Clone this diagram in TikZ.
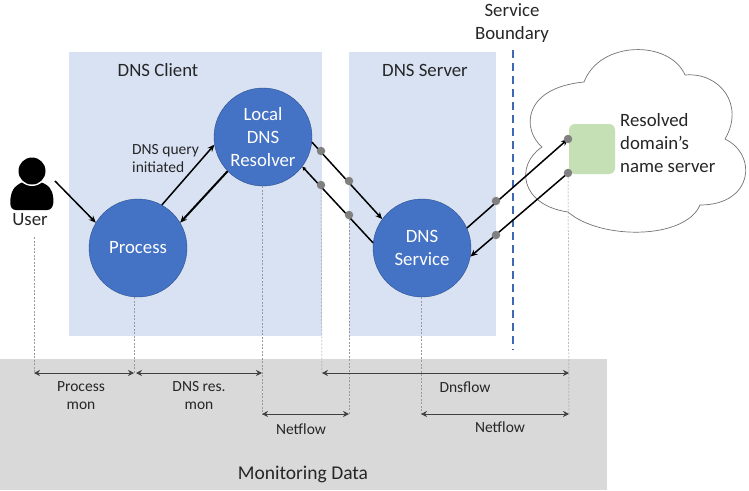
\documentclass[tikz,border=0pt]{standalone}
\usepackage{fontspec}
\setmainfont{Carlito}
\usetikzlibrary{arrows.meta}
\definecolor{panelblue}{HTML}{D9E2F3}
\definecolor{paneldata}{HTML}{D9D9D9}
\definecolor{circleblue}{HTML}{4472C4}
\definecolor{circleedge}{HTML}{2F528F}
\definecolor{servergreen}{HTML}{C5E0B4}
\definecolor{labeltext}{HTML}{262626}
\tikzset{
    big/.style={font=\fontsize{18.8}{23}\selectfont, text=labeltext, align=center, inner sep=0pt},
    small/.style={font=\fontsize{15.5}{18}\selectfont, text=labeltext, align=center, inner sep=0pt},
    comp/.style={circle, draw=circleedge, fill=circleblue, minimum size=98pt, inner sep=0pt, text=white, align=center, font=\fontsize{18.8}{23}\selectfont},
    hop/.style={circle, fill=black!50, minimum size=8.5pt, inner sep=0pt},
    flow/.style={-{Stealth[length=7pt,width=6pt]}, line width=1.5pt, black},
    span/.style={{Stealth[length=6pt,width=6pt]}-{Stealth[length=6pt,width=6pt]}, line width=.8pt, black!75},
    guide/.style={dashed, dash pattern=on 2pt off 1.5pt, line width=.5pt, black!40}
}
\begin{document}
\begin{tikzpicture}[x=1pt,y=-1pt]
    \useasboundingbox (0,0) rectangle (749,490);
    % panels
    \fill[panelblue] (69,52) rectangle (322,336);
    \fill[panelblue] (349,52) rectangle (496,336);
    \fill[paneldata] (0,359) rectangle (607,490);
    \node[big] (clienttitle) at (158,70) {DNS Client};
    \node[big] (servertitle) at (425,70) {DNS Server};
    \node[big] (datatitle) at (303,474) {\fontsize{19.5}{23}\selectfont Monitoring Data};
    % boundary
    \draw[circleedge!30!circleblue, line width=1.5pt, dash pattern=on 8pt off 5pt] (513,50) -- (513,350);
    \node[big] (boundary) at (512,23) {Service\\Boundary};
    % cloud
    \draw[black!55, fill=white, line width=.7pt] (542,147) .. controls (522,130) and (522,88) .. (584,82)
        .. controls (600,40) and (670,40) .. (685,75)
        .. controls (720,72) and (745,105) .. (725,139)
        .. controls (758,155) and (753,205) .. (700,205)
        .. controls (685,240) and (600,240) .. (568,212)
        .. controls (520,205) and (515,165) .. (542,147) -- cycle;
    \node[fill=servergreen, rounded corners=6pt, minimum width=46pt, minimum height=50pt, inner sep=0pt] (nameserver) at (592,149) {};
    \node[big, align=left, anchor=west] (servertext) at (620,143) {Resolved\\domain’s\\name server};
    % user
    \fill[black] (16,210) .. controls (8,210) and (10,198) .. (12,192) .. controls (15,185) and (21,181) .. (32,181) .. controls (43,181) and (50,186) .. (52,192) .. controls (54,198) and (55,210) .. (47,210) -- cycle;
    \fill[white] (32,171) circle (15); \fill[black] (32,171) circle (13.5);
    \node[big] (user) at (30,220) {User};
    \coordinate (userout) at (55,181);
    % components
    \node[comp] (process) at (138,248) {Process};
    \node[comp] (resolver) at (263,137) {Local\\DNS\\Resolver};
    \node[comp] (service) at (422,248) {DNS\\Service};
    \node[small, align=left, anchor=west] (initiated) at (132,159) {DNS query\\initiated};
    % hops
    \coordinate (serverin) at (568,139); \coordinate (serverout) at (568,173);
    % flows
    \draw[flow] (userout) -- (process.149);
    \draw[flow] (process.61) -- (resolver.189);
    \draw[flow, line width=2pt] (resolver.224) -- (process.31);
    \draw[flow] (resolver.-6) -- (service.144);
    \draw[flow, -{Stealth[length=4pt,width=4pt]}] (service.174) -- (resolver.-37);
    \draw[flow] (service.24) -- (serverin);
    \draw[flow] (serverout) -- (service.-10);
    \node[hop] (hopa) at (321,151) {}; \node[hop] (hopb) at (349,181) {};
    \node[hop] (hopc) at (321,185) {}; \node[hop] (hopd) at (349,215) {};
    \node[hop] (hope) at (496,201) {}; \node[hop] (hopf) at (496,235) {};
    \node[hop] (hopg) at (serverin) {}; \node[hop] (hoph) at (serverout) {};
    % guides
    \coordinate (usermark) at (34,373); \coordinate (processmark) at (134,373);
    \coordinate (resmark) at (262,373); \coordinate (resnet) at (262,414);
    \coordinate (dnsmark) at (322,373); \coordinate (netmark) at (349,414);
    \coordinate (svcnet) at (421,414); \coordinate (farmark) at (569,373); \coordinate (farnet) at (569,414);
    \draw[guide] (34,237) -- (usermark);
    \draw[guide] (process.south -| processmark) -- (processmark);
    \draw[guide] (resolver.south -| resnet) -- (resnet);
    \draw[guide] (hopc) -- (dnsmark);
    \draw[guide] (hopd) -- (netmark);
    \draw[guide] (service.south -| svcnet) -- (svcnet);
    \draw[guide] (hoph) -- (farnet);
    % spans
    \draw[span] (usermark) -- (processmark);
    \draw[span] ([xshift=2pt]processmark) -- (resmark);
    \draw[span] (dnsmark) -- (farmark);
    \draw[span] (resnet) -- (netmark);
    \draw[span] (svcnet) -- (farnet);
    \node[small] (procmon) at (81,396) {Process\\mon};
    \node[small] (resmon) at (199,396) {DNS res.\\mon};
    \node[small] (dnsflow) at (465,387) {Dnsflow};
    \node[small] (netleft) at (301,429) {Netflow};
    \node[small] (netright) at (500,427) {Netflow};
\end{tikzpicture}
\end{document}
